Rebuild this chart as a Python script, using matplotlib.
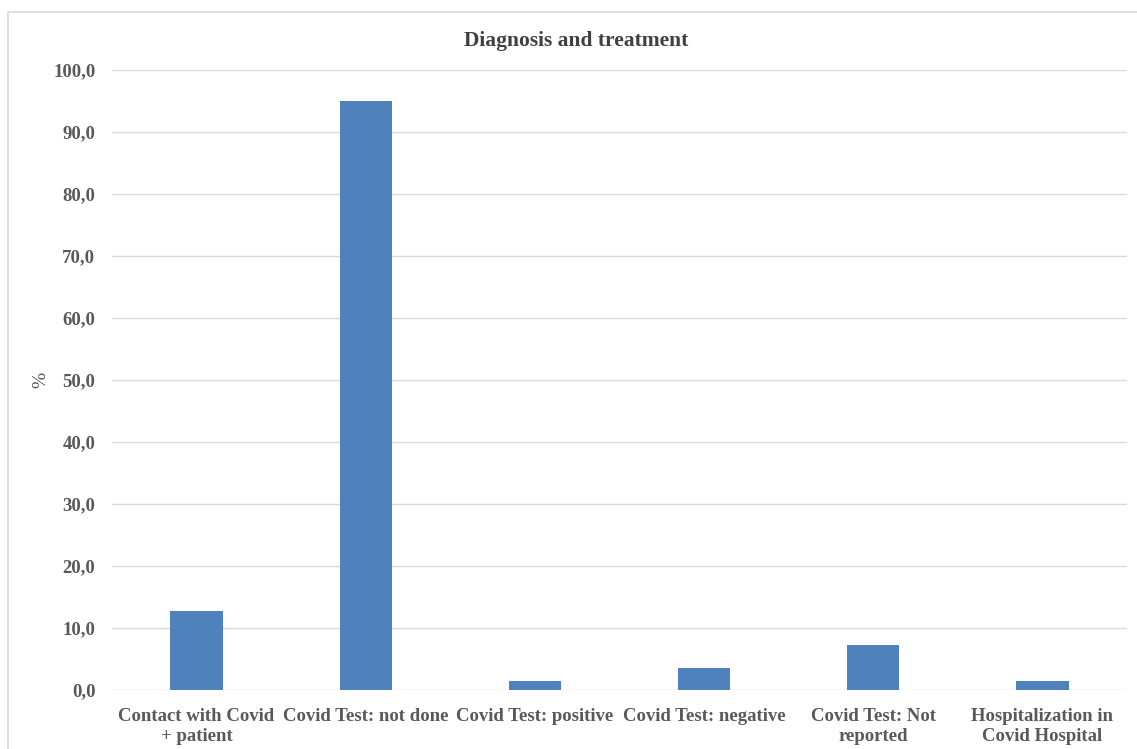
import matplotlib
matplotlib.use("Agg")
import matplotlib.pyplot as plt
from matplotlib.ticker import FuncFormatter, MultipleLocator
from matplotlib.patches import Rectangle

categories = ["Contact with Covid\n+ patient", "Covid Test: not done", "Covid Test: positive",
              "Covid Test: negative", "Covid Test: Not\nreported", "Hospitalization in\nCovid Hospital"]
values = [12.8, 95.0, 1.5, 3.5, 7.3, 1.5]

plt.rcParams['font.family'] = ['Liberation Serif', 'DejaVu Serif']
txt = '#595959'

fig = plt.figure(figsize=(11.37, 7.49), dpi=100)
ax = fig.add_axes([112/1137, 1-690/749, (1127-112)/1137, (690-70)/749])

x = list(range(len(categories)))
ax.bar(x, values, width=0.31, color='#4F81BD', zorder=3)
ax.set_xlim(-0.5, len(categories)-0.5)
ax.set_ylim(0, 100)
ax.yaxis.set_major_locator(MultipleLocator(10))
ax.yaxis.set_major_formatter(FuncFormatter(lambda v, p: f"{v:.1f}".replace('.', ',')))
ax.grid(axis='y', color='#D9D9D9', linewidth=1.0, zorder=0)
for s in ax.spines.values():
    s.set_visible(False)
ax.tick_params(axis='both', length=0, colors=txt)
ax.tick_params(axis='y', pad=12, labelsize=13.5)
ax.tick_params(axis='x', pad=13, labelsize=13.5)
ax.set_xticks(x)
ax.set_xticklabels(categories, fontweight='bold', color=txt, linespacing=1.2)
for lab in ax.get_yticklabels():
    lab.set_fontweight('bold')
ax.set_ylabel('%', color=txt, fontsize=14, labelpad=3)
fig.text(576/1137, 1-41/749, 'Diagnosis and treatment', fontsize=15.5, fontweight='bold',
         color='#404040', ha='center', va='center')

fig.patches.append(Rectangle((8/1137, -0.1), 1.2, 1-12/749+0.1, transform=fig.transFigure,
                             fill=False, edgecolor='#D9D9D9', linewidth=1.2))
fig.savefig('out.png', dpi=100)
